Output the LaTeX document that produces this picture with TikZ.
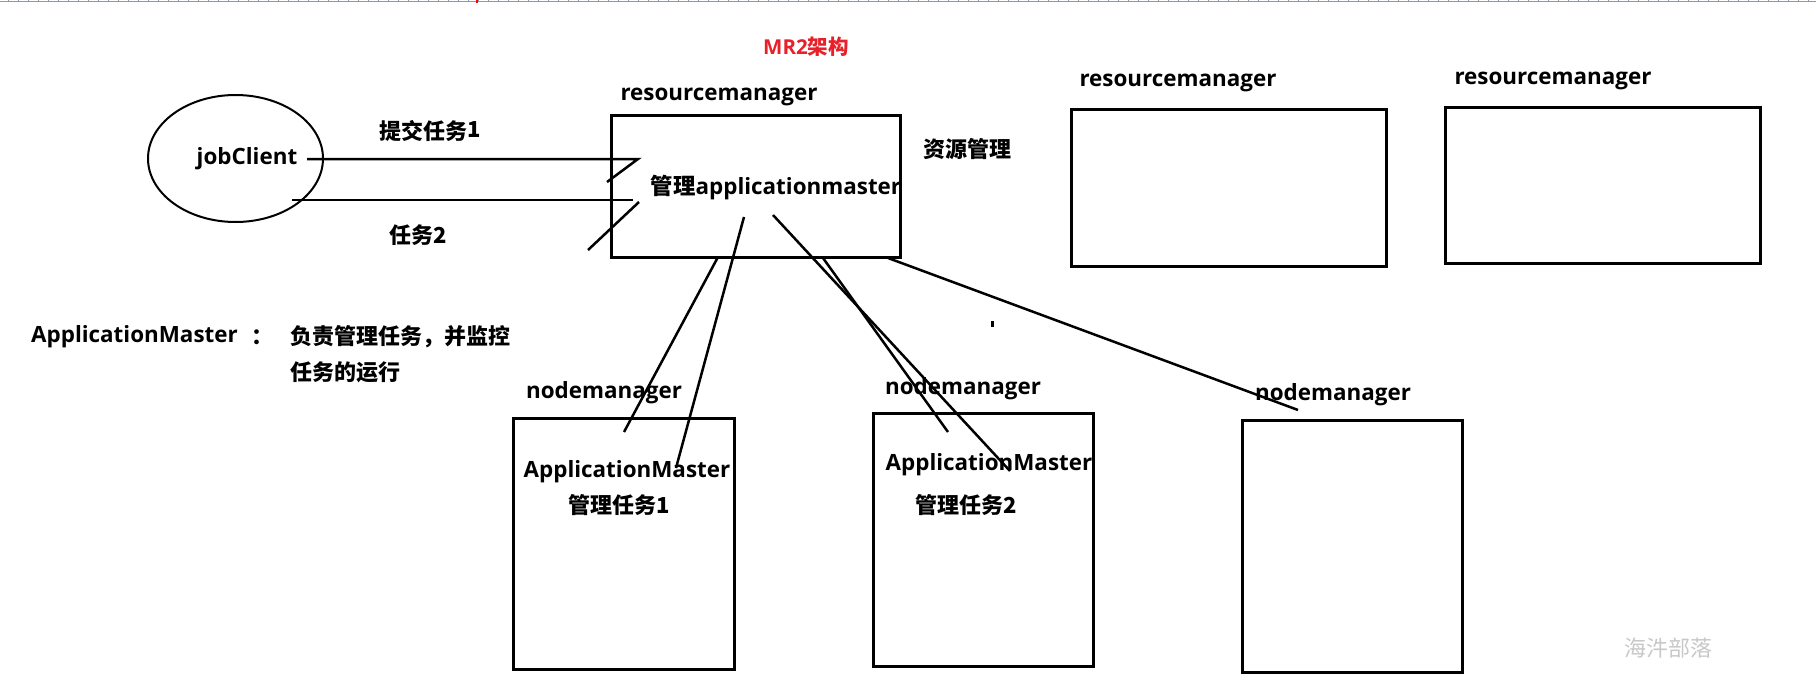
\documentclass[tikz,border=0pt]{standalone}
\usepackage{fontspec}
\usetikzlibrary{shapes.geometric}
\setmainfont{Open Sans}
\newfontfamily\cjk{Noto Sans CJK SC}
\definecolor{mrred}{HTML}{E8202A}
\definecolor{rulerc}{HTML}{8A9AB4}
\definecolor{wmgray}{HTML}{C8C8C8}
\tikzset{
  box/.style={draw, line width=3pt, inner sep=0pt},
  lbl/.style={inner sep=0pt, font=\fontsize{22.4}{26}\selectfont\bfseries},
  zh/.style={inner sep=0pt, font=\fontsize{22}{26}\selectfont\cjk\bfseries},
  conn/.style={line width=2.5pt},
}
\begin{document}
\begin{tikzpicture}[x=1pt,y=-1pt]
\useasboundingbox[fill=white] (0,0) rectangle (1816,696);
% ruler strip
\draw[rulerc, line width=1.2pt] (0,1.4) -- (1816,1.4);
\foreach \x in {8,18,...,1808} \draw[rulerc, line width=0.8pt] (\x,0) -- (\x,1.6);
\draw[red, line width=1.2pt] (477,0) -- (477,2.5);

% title
\node[zh, text=mrred, font=\fontsize{20.5}{24}\selectfont\bfseries] (title) at (806,47) {MR2{\cjk 架构}};

% jobClient
\node[draw, ellipse, line width=2pt, minimum width=175pt, minimum height=127pt, inner sep=0pt] (jc) at (235.5,158.5) {};
\node[lbl] (jct) at (247,159) {jobClient};

% resource managers
\node[box, minimum width=289pt, minimum height=142pt] (rm1) at (755.5,186) {};
\node[lbl] (rm1l) at (719,97) {resourcemanager};
\node[lbl] (rm1t) at (776,188) {{\cjk 管理}applicationmaster};
\node[zh] (res) at (967,149) {资源管理};

\node[box, minimum width=315pt, minimum height=157pt] (rm2) at (1228.5,187.5) {};
\node[lbl] (rm2l) at (1178,83) {resourcemanager};
\node[box, minimum width=315pt, minimum height=156pt] (rm3) at (1602.5,185) {};
\node[lbl] (rm3l) at (1553,81) {resourcemanager};

% submit labels
\node[zh] (s1) at (430,131) {提交任务\raisebox{2pt}{1}};
\node[zh] (s2) at (418,235) {任务2};

% note
\node[lbl, anchor=west] (amn) at (31,337) {ApplicationMaster};
\node[zh] (colon) at (262,337) {：};
\node[zh, anchor=west] (d1) at (290,337) {负责管理任务，并监控};
\node[zh, anchor=west] (d2) at (290,372) {任务的运行};

% node managers
\node[box, minimum width=221pt, minimum height=251pt] (nm1) at (623.5,543.5) {};
\node[lbl] (nm1l) at (604,393) {nodemanager};
\node[lbl] (nm1a) at (627,472) {ApplicationMaster};
\node[zh] (nm1t) at (619,505) {管理任务1};

\node[box, minimum width=220pt, minimum height=253pt] (nm2) at (983,539.5) {};
\node[lbl] (nm2l) at (963,389) {nodemanager};
\node[lbl] (nm2a) at (989,465) {ApplicationMaster};
\node[zh] (nm2t) at (966,505) {管理任务2};

\node[box, minimum width=220pt, minimum height=252pt] (nm3) at (1352,546) {};
\node[lbl] (nm3l) at (1333,395) {nodemanager};

% watermark
\node[inner sep=0pt, text=wmgray, font=\fontsize{22}{26}\selectfont\cjk] (wm) at (1668,648) {海汼部落};

% connector end points
\coordinate (c1s) at (307,159);
\coordinate (c1e) at (638,159);
\coordinate (c1h) at (607,182);
\coordinate (c2s) at (292,200);
\coordinate (c2e) at (633,200);
\coordinate (c2a) at (639,202);
\coordinate (c2h) at (588,250);
\coordinate (p1s) at (718,257);
\coordinate (p1e) at (624,432);
\coordinate (p2s) at (744,217);
\coordinate (p2e) at (676,468);
\coordinate (p3s) at (773,215);
\coordinate (p3e) at (1010,471);
\coordinate (p4s) at (823,258);
\coordinate (p4e) at (948,432);
\coordinate (p5s) at (888,258);
\coordinate (p5e) at (1298,410);
\coordinate (tk1) at (992,321);
\coordinate (tk2) at (992,327);

\draw[conn] (c1s) -- (c1e) -- (c1h);
\draw[conn] (c2s) -- (c2e);
\draw[conn] (c2a) -- (c2h);
\draw[conn] (p1s) -- (p1e);
\draw[conn] (p2s) -- (p2e);
\draw[conn] (p3s) -- (p3e);
\draw[conn] (p4s) -- (p4e);
\draw[conn] (p5s) -- (p5e);
\draw[line width=3pt] (tk1) -- (tk2);
\end{tikzpicture}
\end{document}
